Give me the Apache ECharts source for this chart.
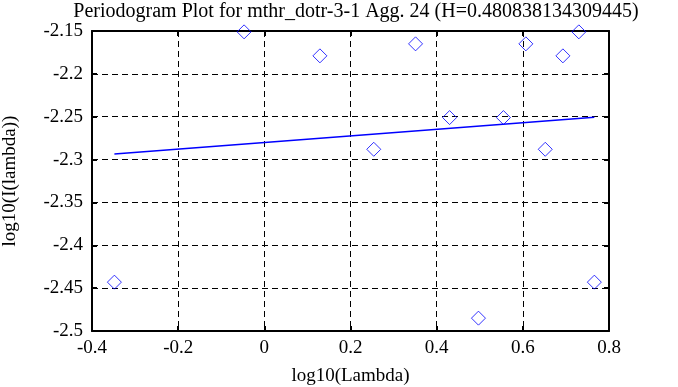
<!DOCTYPE html>
<html><head><meta charset="utf-8">
<script src="https://cdn.jsdelivr.net/npm/echarts@6/dist/echarts.min.js"></script>
<style>html,body{margin:0;padding:0;background:#fff}#c{width:678px;height:387px}</style>
</head><body><div id="c"></div>
<script>
const titleText = 'Periodogram Plot for mthr_dotr-3-1 Agg. 24 (H=0.480838134309445)';
const xName = 'log10(Lambda)';
const yName = 'log10(I(lambda))';
const logLambda = [-0.348, -0.047, 0.129, 0.254, 0.351, 0.430, 0.497, 0.555, 0.607, 0.652, 0.693, 0.730, 0.766];
const logI = [-2.443, -2.151, -2.179, -2.288, -2.165, -2.251, -2.485, -2.251, -2.165, -2.288, -2.179, -2.151, -2.443];
const fitX = [-0.348, 0.766];
const fitY = [-2.2935, -2.2505];

const font = 'Liberation Serif';
const chart = echarts.init(document.getElementById('c'), null, {renderer: 'canvas'});
const grid = {left: 92, right: 69, top: 31, bottom: 56, containLabel: false, outerBoundsMode: 'none'};
const dashed = {show: true, lineStyle: {color: '#000', width: 1, type: [6, 4]}};
chart.setOption({
  animation: false,
  backgroundColor: '#fff',
  title: {text: titleText, left: 351, top: -3, textAlign: 'center',
    textStyle: {fontFamily: font, fontSize: 20, fontWeight: 'normal', color: '#000'}},
  grid: grid,
  xAxis: [{
    type: 'value', min: -0.4, max: 0.8, interval: 0.2,
    name: xName, nameLocation: 'middle', nameGap: 36,
    nameTextStyle: {fontFamily: font, fontSize: 19, color: '#000'},
    axisLine: {show: true, onZero: false, lineStyle: {color: '#000', width: 2}},
    axisTick: {show: true, inside: true, length: 5, lineStyle: {color: '#000', width: 2}},
    axisLabel: {fontFamily: font, fontSize: 19, color: '#000', margin: 8},
    splitLine: dashed
  }, {
    type: 'value', min: -0.4, max: 0.8, interval: 0.2, position: 'top',
    axisLine: {show: true, onZero: false, lineStyle: {color: '#000', width: 2}},
    axisTick: {show: true, inside: true, length: 5, lineStyle: {color: '#000', width: 2}},
    axisLabel: {show: false}, splitLine: {show: false}
  }],
  yAxis: [{
    type: 'value', min: -2.5, max: -2.15, interval: 0.05,
    name: yName, nameLocation: 'middle', nameGap: 72,
    nameTextStyle: {fontFamily: font, fontSize: 19, color: '#000'},
    axisLine: {show: true, onZero: false, lineStyle: {color: '#000', width: 2}},
    axisTick: {show: true, inside: true, length: 5, lineStyle: {color: '#000', width: 2}},
    axisLabel: {fontFamily: font, fontSize: 19, color: '#000', margin: 9},
    splitLine: dashed
  }, {
    type: 'value', min: -2.5, max: -2.15, interval: 0.05, position: 'right',
    axisLine: {show: true, onZero: false, lineStyle: {color: '#000', width: 2}},
    axisTick: {show: true, inside: true, length: 5, lineStyle: {color: '#000', width: 2}},
    axisLabel: {show: false}, splitLine: {show: false}
  }],
  series: [{
    type: 'scatter',
    data: logLambda.map((x, i) => [x, logI[i]]),
    symbol: 'diamond', symbolSize: 14,
    itemStyle: {color: 'rgba(0,0,0,0)', borderColor: '#0000ff', borderWidth: 1},
    z: 5
  }, {
    type: 'line',
    data: fitX.map((x, i) => [x, fitY[i]]),
    symbol: 'none',
    lineStyle: {color: '#0000ff', width: 1.5},
    z: 4
  }]
});
</script></body></html>
